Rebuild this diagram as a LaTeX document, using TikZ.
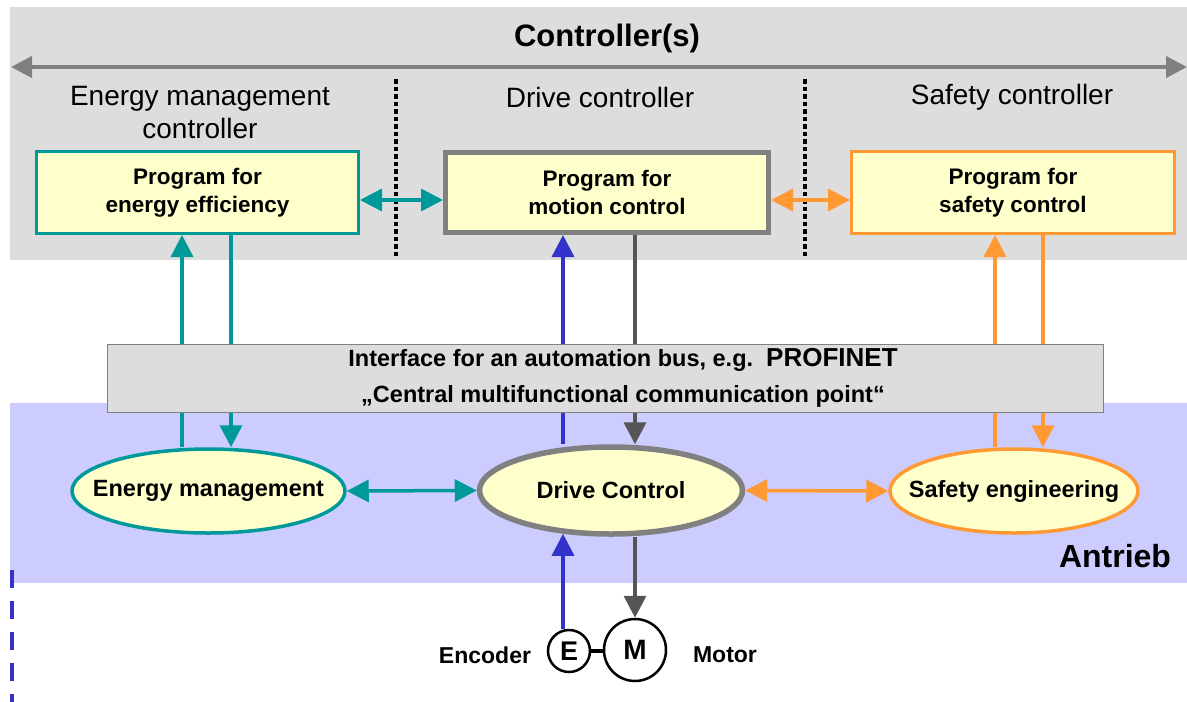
\documentclass[tikz,border=0pt]{standalone}
\usepackage{fontspec}
\setmainfont{Liberation Sans}
\usetikzlibrary{arrows.meta,shapes.geometric,calc}
\definecolor{tealc}{HTML}{009999}
\definecolor{orng}{HTML}{FF9933}
\definecolor{blu}{HTML}{3333CC}
\definecolor{dgry}{HTML}{555555}
\definecolor{mgry}{HTML}{808080}
\definecolor{lgry}{HTML}{DDDDDD}
\definecolor{lblu}{HTML}{CCCCFF}
\definecolor{lyel}{HTML}{FFFFCC}
\pgfdeclarelayer{bg}
\pgfdeclarelayer{arrowlayer}
\pgfsetlayers{bg,arrowlayer,main}
\begin{document}
\begin{tikzpicture}[x=1pt,y=-1pt,
  tip/.tip={Triangle[length=22pt,width=22pt]},
  prog/.style={draw, fill=lyel, minimum height=82pt, align=center, inner sep=0pt,
    font=\bfseries\fontsize{22.5}{28}\selectfont},
  ell/.style={ellipse, draw, fill=lyel, line width=3.5pt, inner sep=0pt,
    font=\bfseries\fontsize{23.5}{26}\selectfont},
  arr/.style={line width=3.5pt, -{tip}},
  darr/.style={line width=3.5pt, {tip}-{tip}},
  lab/.style={font=\fontsize{28}{33}\selectfont, align=center},
  blab/.style={font=\bfseries\fontsize{23}{26}\selectfont},
  sep/.style={line width=4.5pt, dash pattern=on 4.5pt off 3pt},
  band/.style={anchor=north west, inner sep=0pt, outer sep=0pt}]
\useasboundingbox (0,0) rectangle (1187,702);
% backgrounds
\begin{pgfonlayer}{bg}
\node[band, fill=lgry, minimum width=1177pt, minimum height=253pt] (ctrlband) at (10,7) {};
\node[band, fill=lblu, minimum width=1177pt, minimum height=180pt] (driveband) at (10,403) {};
\end{pgfonlayer}
% title
\node[font=\bfseries\fontsize{31}{34}\selectfont] (title) at (607,38) {Controller(s)};
\coordinate (al) at (11,67);
\coordinate (ar) at (1187,67);
\draw[mgry, line width=4pt, {Triangle[length=21pt,width=21pt]}-{Triangle[length=21pt,width=21pt]}] (al) -- (ar);
% column labels
\node[lab] (lab1) at (200,113) {Energy management\\controller};
\node[lab] (lab2) at (600,97) {Drive controller};
\node[lab] (lab3) at (1012,97) {Safety controller};
% dotted separators
\coordinate (d1t) at (396,79); \coordinate (d1b) at (396,258);
\coordinate (d2t) at (805,79); \coordinate (d2b) at (805,258);
\draw[sep] (d1t) -- (d1b);
\draw[sep] (d2t) -- (d2b);
% program boxes
\node[prog, draw=tealc, line width=3pt, minimum width=322pt] (ebox) at (197.5,192.5) {Program for\\energy efficiency};
\node[prog, draw=mgry, line width=5pt, minimum width=323pt, minimum height=80pt] (mbox) at (607,192.5) {Program for\\motion control};
\node[prog, draw=orng, line width=3pt, minimum width=323pt] (sbox) at (1013,192.5) {Program for\\safety control};
% interface
\node[draw=mgry, fill=lgry, line width=1.5pt, minimum width=996pt, minimum height=68pt, inner sep=0pt] (iface) at (605.5,378.5) {};
\node[font=\bfseries\fontsize{23.5}{36}\selectfont, align=center] (ifacetxt) at (623,378) {Interface for an automation bus, e.g.\ \ {\fontsize{26}{28}\selectfont PROFINET}\\„Central multifunctional communication point“};
% ellipses
\node[ell, draw=tealc, minimum width=273pt, minimum height=84pt] (eell) at (208.5,491) {\makebox[0pt]{Energy management}};
\node[ell, draw=mgry, line width=5.5pt, minimum width=263pt, minimum height=87pt] (dell) at (611,490.5) {\makebox[0pt]{Drive Control}};
\node[ell, draw=orng, minimum width=248pt, minimum height=84pt] (sell) at (1014,491) {\makebox[0pt]{Safety engineering}};
\node[font=\bfseries\fontsize{32}{34}\selectfont] (antrieb) at (1115,556) {Antrieb};
% encoder & motor
\node[circle, draw, line width=2.5pt, fill=white, minimum size=42pt, inner sep=0pt, font=\bfseries\fontsize{27}{30}\selectfont] (enc) at (569,651) {E};
\node[circle, draw, line width=2.5pt, fill=white, minimum size=62pt, inner sep=0pt, font=\bfseries\fontsize{28}{32}\selectfont] (mot) at (635,650) {M};
\draw[line width=4pt] (enc.east) -- (mot.west |- enc.east);
\node[blab] (enclab) at (485,655) {Encoder};
\node[blab] (motlab) at (725,655) {Motor};
% connectors
\coordinate (xa) at (182,0); \coordinate (xb) at (231,0);
\coordinate (xc) at (563,0); \coordinate (xd) at (635,0);
\coordinate (xe) at (995,0); \coordinate (xf) at (1043,0);
\coordinate (hy) at (0,200);
\coordinate (bd1) at (12,570); \coordinate (bd2) at (12,702);
\begin{pgfonlayer}{arrowlayer}
\draw[arr, tealc] (eell.north -| xa) -- (ebox.south -| xa);
\draw[arr, tealc] (ebox.south -| xb) -- (eell.north -| xb);
\draw[arr, blu] (dell.north -| xc) -- (mbox.south -| xc);
\draw[arr, dgry] (mbox.south -| xd) -- (dell.north -| xd);
\draw[arr, orng] (sell.north -| xe) -- (sbox.south -| xe);
\draw[arr, orng] (sbox.south -| xf) -- (sell.north -| xf);
\draw[arr, blu] (enc.north -| xc) -- ($(dell.south -| xc)+(0,-3)$);
\draw[arr, dgry] (dell.south -| mot.north) -- (mot.north);
\draw[blu, line width=4pt, dash pattern=on 18pt off 13pt] (bd1) -- (bd2);
\end{pgfonlayer}
\draw[darr, tealc] (ebox.east |- hy) -- (mbox.west |- hy);
\draw[darr, orng] (mbox.east |- hy) -- (sbox.west |- hy);
\draw[darr, tealc] (eell.east) -- (dell.west);
\draw[darr, orng] (dell.east) -- (sell.west);
\end{tikzpicture}
\end{document}
